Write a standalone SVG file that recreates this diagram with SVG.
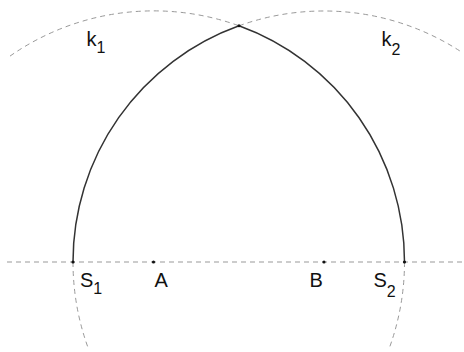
<svg xmlns="http://www.w3.org/2000/svg" width="464" height="352" viewBox="0 0 464 352">
<style>
.dash{fill:none;stroke:#999;stroke-width:1;stroke-dasharray:5 4}
.solid{fill:none;stroke:#333;stroke-width:1.5}
.pt{fill:#111}
text{font-family:"Liberation Sans",Arial,sans-serif;font-size:20px;fill:#111}
.sub{font-size:16px}
</style>
<rect width="464" height="352" fill="#fff"/>
<g id="connectors">
<path class="dash" d="M7 262H464"/>
<path class="dash" d="M10 56.1A251 251 0 0 1 239 25.8"/>
<path class="dash" d="M239 25.8A251 251 0 0 1 460.7 51.5"/>
<path class="dash" d="M404.5 262A251 251 0 0 1 389.7 347"/>
<path class="dash" d="M73 262A251 251 0 0 0 87.8 347"/>
<path class="solid" d="M73 262A251 251 0 0 1 239 25.8A251 251 0 0 1 404.5 262"/>
</g>
<g id="k1"><text x="86.5" y="45.5">k<tspan class="sub" dy="7.5">1</tspan></text></g>
<g id="k2"><text x="381.5" y="45.5">k<tspan class="sub" dy="9">2</tspan></text></g>
<g id="apex"><circle class="pt" cx="239" cy="25.8" r="1.5"/></g>
<g id="S1"><circle class="pt" cx="73" cy="262" r="1.6"/><text x="80" y="287">S<tspan class="sub" dy="7">1</tspan></text></g>
<g id="A"><circle class="pt" cx="153.5" cy="262" r="1.6"/><text x="154.5" y="287">A</text></g>
<g id="B"><circle class="pt" cx="324" cy="262" r="1.6"/><text x="309.5" y="287">B</text></g>
<g id="S2"><circle class="pt" cx="404.5" cy="262" r="1.6"/><text x="373.5" y="287">S<tspan class="sub" dy="9.5">2</tspan></text></g>
</svg>
